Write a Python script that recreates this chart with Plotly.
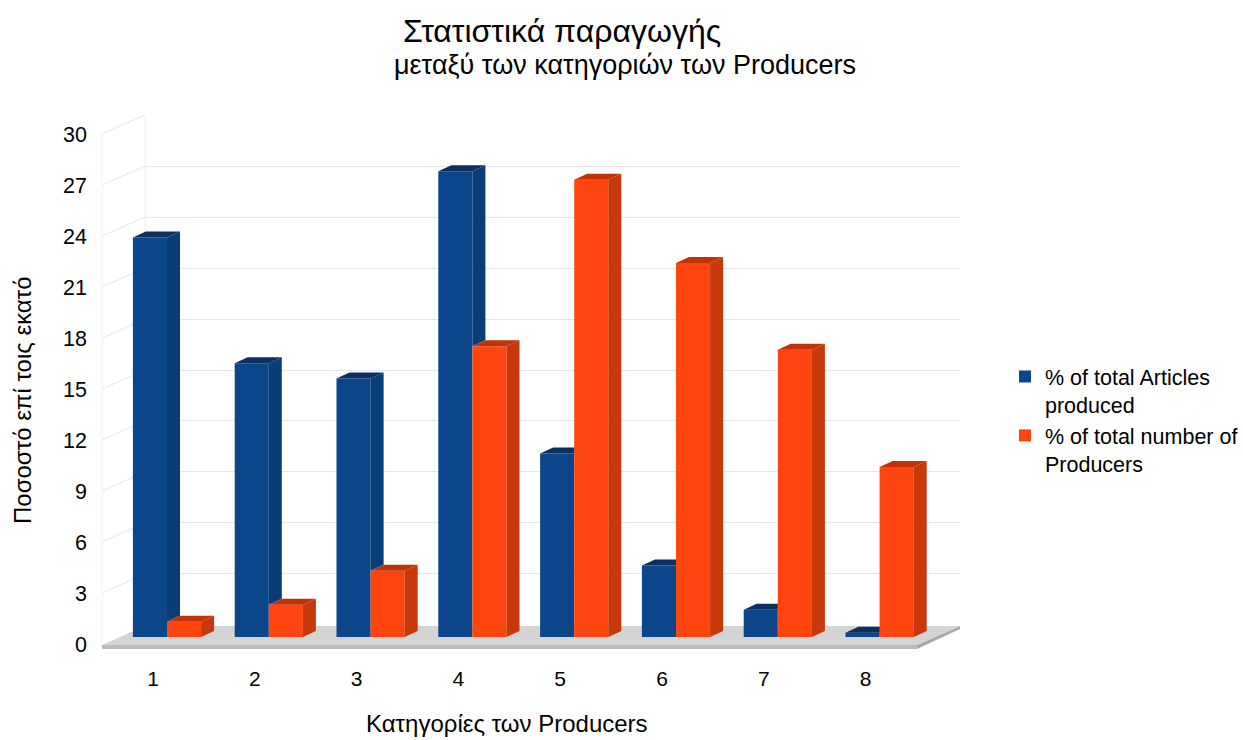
import plotly.graph_objects as go

W, H = 1243, 740

# Data
categories = [1, 2, 3, 4, 5, 6, 7, 8]
articles_pct = [23.5, 16.1, 15.2, 27.4, 10.8, 4.2, 1.6, 0.25]
producers_pct = [0.9, 1.9, 3.9, 17.1, 26.9, 22.0, 16.9, 10.0]
y_ticks = [0, 3, 6, 9, 12, 15, 18, 21, 24, 27, 30]
series_names = ["% of total Articles<br>produced", "% of total number of<br>Producers"]

BLUE, BLUE_TOP, BLUE_SIDE = "#0a4689", "#0b2f5e", "#083d78"
ORANGE, ORANGE_TOP, ORANGE_SIDE = "#ff450f", "#c03208", "#c9380b"
FONT = "Liberation Sans, Arial, sans-serif"


def px_x(p):
    return p / W


def px_y(p):
    return 1 - p / H


# pseudo-3D geometry (bar axis units)
BARGAP = 0.33
BW = (1 - BARGAP) / 2          # width of one bar front face
CAT_PX = 101.8                 # pixels per category
VAL_PX = 17.0                  # pixels per percent
DX = 13 / CAT_PX               # depth offset, horizontal
DY = 6 / VAL_PX                # depth offset, vertical


def polys(list_of_pts):
    xs, ys = [], []
    for pts in list_of_pts:
        for (a, b) in pts + [pts[0]]:
            xs.append(a)
            ys.append(b)
        xs.append(None)
        ys.append(None)
    return xs, ys


blue_top, blue_side, orange_top, orange_side = [], [], [], []
for c, b, o in zip(categories, articles_pct, producers_pct):
    xl, xr = c - BW, c
    if b >= o:
        blue_top.append([(xl, b), (xr, b), (xr + DX, b + DY), (xl + DX, b + DY)])
        if b > o:
            blue_side.append([(xr, o), (xr, b), (xr + DX, b + DY), (xr + DX, o + DY)])
    else:
        blue_top.append([(xl, b), (xr, b), (xr, b + DY), (xl + DX, b + DY)])
    orange_top.append([(xr, o), (xr + BW, o), (xr + BW + DX, o + DY), (xr + DX, o + DY)])
    orange_side.append([(xr + BW, 0), (xr + BW, o), (xr + BW + DX, o + DY), (xr + BW + DX, DY)])

fig = go.Figure()

# back wall subplot (gridlines only)
fig.add_trace(go.Scatter(x=[0.5], y=[0], mode="markers", marker=dict(opacity=0),
                         hoverinfo="skip", showlegend=False, xaxis="x", yaxis="y"))

# front faces of the bars
fig.add_trace(go.Bar(x=categories, y=articles_pct, name=series_names[0],
                     marker=dict(color=BLUE, line=dict(width=0)), xaxis="x2", yaxis="y2"))
fig.add_trace(go.Bar(x=categories, y=producers_pct, name=series_names[1],
                     marker=dict(color=ORANGE, line=dict(width=0)), xaxis="x2", yaxis="y2"))

# side and top faces
for pts, col in [(blue_side, BLUE_SIDE), (blue_top, BLUE_TOP),
                 (orange_top, ORANGE_TOP), (orange_side, ORANGE_SIDE)]:
    if not pts:
        continue
    xs, ys = polys(pts)
    fig.add_trace(go.Scatter(x=xs, y=ys, mode="lines", fill="toself", fillcolor=col,
                             line=dict(width=0, color=col), hoverinfo="skip",
                             showlegend=False, xaxis="x2", yaxis="y2"))

# tick-label axes
fig.add_trace(go.Scatter(x=[1], y=[0], mode="markers", marker=dict(opacity=0),
                         hoverinfo="skip", showlegend=False, xaxis="x3", yaxis="y3"))

# floor slab and side wall lines
shapes = []
floor_top = [(102, 645), (917, 645), (960, 626), (145, 626)]
floor_front = [(102, 645), (917, 645), (917, 649), (102, 649)]
floor_right = [(917, 645), (960, 626), (960, 629), (917, 649)]


def path(pts):
    return "M " + " L ".join(f"{px_x(a):.5f},{px_y(b):.5f}" for a, b in pts) + " Z"


for pts, col in [(floor_front, "#bcbcbc"), (floor_right, "#a8a8a8"), (floor_top, "#d4d4d4")]:
    shapes.append(dict(type="path", path=path(pts), xref="paper", yref="paper",
                       fillcolor=col, line=dict(width=0), layer="below"))

GRID = "#e6e6e6"
for v in y_ticks[1:]:
    shapes.append(dict(type="line", xref="paper", yref="paper",
                       x0=px_x(102), y0=px_y(644 - VAL_PX * v),
                       x1=px_x(145), y1=px_y(625 - VAL_PX * v),
                       line=dict(color=GRID, width=1), layer="below"))
shapes.append(dict(type="line", xref="paper", yref="paper",
                   x0=px_x(145), y0=px_y(625), x1=px_x(145), y1=px_y(115),
                   line=dict(color="#eeeeee", width=1), layer="below"))
shapes.append(dict(type="line", xref="paper", yref="paper",
                   x0=px_x(102), y0=px_y(644), x1=px_x(102), y1=px_y(134),
                   line=dict(color="#f2f2f2", width=1), layer="below"))

fig.update_layout(
    template="none",
    width=W, height=H,
    margin=dict(l=0, r=0, t=0, b=0, pad=0, autoexpand=False),
    paper_bgcolor="white", plot_bgcolor="rgba(0,0,0,0)",
    font=dict(family=FONT, color="black"),
    barmode="group", bargap=BARGAP, bargroupgap=0,
    shapes=shapes,
    title=dict(text="Στατιστικά παραγωγής", x=px_x(562), xanchor="center",
               y=px_y(31), yanchor="middle", yref="paper",
               font=dict(size=32, family=FONT, color="black")),
    xaxis=dict(domain=[px_x(145), px_x(960)], range=[0, 1], visible=False,
               automargin=False),
    yaxis=dict(domain=[px_y(625), px_y(115)], range=[-0.01, 30.01], tickvals=y_ticks,
               showgrid=True, gridcolor=GRID, gridwidth=1, zeroline=False,
               showticklabels=False, ticks="", showline=False, automargin=False),
    xaxis2=dict(domain=[px_x(167 - CAT_PX / 2), px_x(167 + 7.5 * CAT_PX)],
                range=[0.5, 8.5], visible=False, anchor="y2", automargin=False),
    yaxis2=dict(domain=[px_y(637), px_y(637 - 30 * VAL_PX)], range=[0, 30],
                visible=False, anchor="x2", automargin=False),
    xaxis3=dict(domain=[px_x(153 - CAT_PX / 2), px_x(153 + 7.5 * CAT_PX)],
                range=[0.5, 8.5], tickvals=categories, ticktext=[str(c) for c in categories],
                anchor="free", position=px_y(664), showgrid=False, zeroline=False,
                showline=False, ticks="", tickfont=dict(size=21), automargin=False),
    yaxis3=dict(domain=[px_y(644), px_y(134)], range=[0, 30], tickvals=y_ticks,
                anchor="free", position=px_x(87), showgrid=False, zeroline=False,
                showline=False, ticks="", tickfont=dict(size=21.5), automargin=False),
    legend=dict(x=px_x(1005), y=px_y(356), xanchor="left", yanchor="top",
                font=dict(size=21.5, family=FONT), bgcolor="rgba(0,0,0,0)",
                valign="top", itemsizing="constant"),
    annotations=[
        dict(text="μεταξύ των κατηγοριών των Producers", x=px_x(625), y=px_y(65),
             xref="paper", yref="paper", showarrow=False, xanchor="center", yanchor="middle",
             font=dict(size=27)),
        dict(text="Κατηγορίες των Producers", x=px_x(507), y=px_y(723),
             xref="paper", yref="paper", showarrow=False, xanchor="center", yanchor="middle",
             font=dict(size=24)),
        dict(text="Ποσοστό επί τοις εκατό", x=px_x(22), y=px_y(400),
             xref="paper", yref="paper", showarrow=False, xanchor="center", yanchor="middle",
             textangle=-90, font=dict(size=24)),
    ],
)

fig.write_html("out.html")
